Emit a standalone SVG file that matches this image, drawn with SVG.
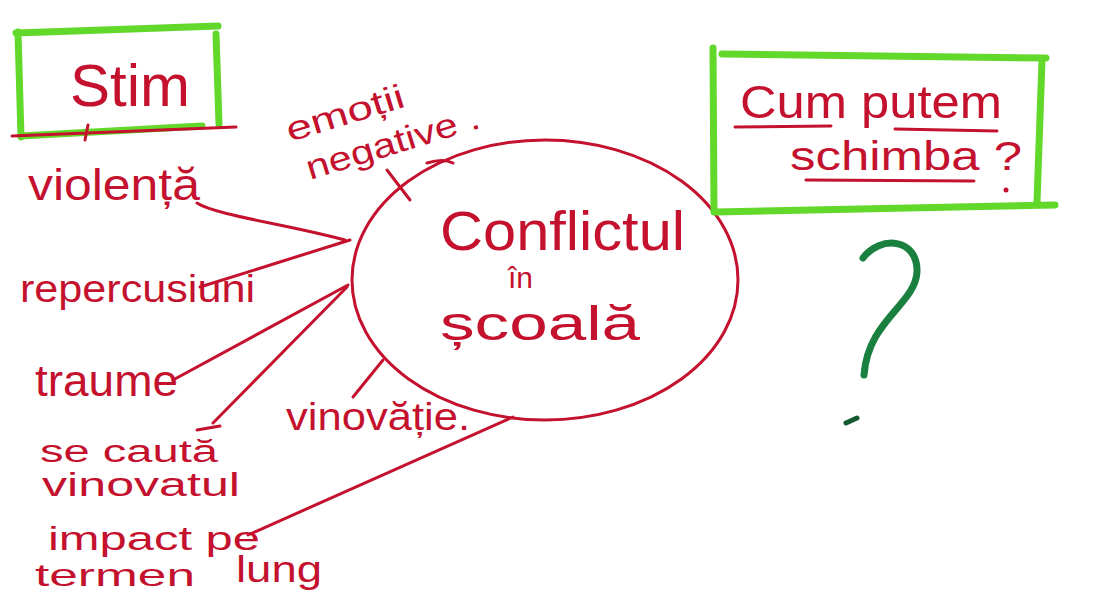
<svg xmlns="http://www.w3.org/2000/svg" width="1099" height="596" viewBox="0 0 1099 596">
<defs>
<linearGradient id="topline" x1="0" x2="1" y1="0" y2="0">
<stop offset="0" stop-color="#e0e0e0"/><stop offset="0.4" stop-color="#555"/><stop offset="1" stop-color="#111"/>
</linearGradient>
</defs>
<style>
.t{font-family:"Liberation Sans","DejaVu Sans",sans-serif;fill:#c4112e;}
.r{stroke:#c4112e;stroke-width:3;fill:none;stroke-linecap:round;stroke-linejoin:round;}
.g{stroke:#62d82a;stroke-width:7;fill:none;stroke-linecap:round;}
</style>
<rect width="1099" height="596" fill="#fff"/>
<line x1="565" y1="14" x2="1099" y2="14" stroke="url(#topline)" stroke-width="2"/>

<g id="stim">
<path class="g" d="M16 33 L218 26 M18 32 L21 137 M216 34 L219 124 M21 136 L202 126"/>
<path class="r" d="M12 136 L236 127 M88 125 L85 140"/>
<text class="t" x="70" y="106" font-size="60" textLength="120" lengthAdjust="spacingAndGlyphs">Stim</text>
</g>

<g id="central">
<ellipse class="r" cx="545" cy="280" rx="193" ry="140"/>
<text class="t" x="440" y="250" font-size="56" textLength="245" lengthAdjust="spacingAndGlyphs">Conflictul</text>
<text class="t" x="508" y="288" font-size="30">în</text>
<text class="t" x="440" y="340" font-size="48" textLength="200" lengthAdjust="spacingAndGlyphs">școală</text>
</g>

<g id="violenta">
<text class="t" x="28" y="200" font-size="44" textLength="172" lengthAdjust="spacingAndGlyphs">violență</text>
</g>
<g id="emotii">
<text class="t" font-size="34" transform="translate(290 142) rotate(-17)" textLength="122" lengthAdjust="spacingAndGlyphs">emoții</text>
<text class="t" font-size="34" transform="translate(310 180) rotate(-17)" textLength="180" lengthAdjust="spacingAndGlyphs">negative .</text>
</g>
<g id="repercusiuni">
<text class="t" x="20" y="302" font-size="38" textLength="235" lengthAdjust="spacingAndGlyphs">repercusiuni</text>
</g>
<g id="traume">
<text class="t" x="35" y="396" font-size="44" textLength="143" lengthAdjust="spacingAndGlyphs">traume</text>
</g>
<g id="se-cauta">
<text class="t" x="40" y="462" font-size="31" textLength="178" lengthAdjust="spacingAndGlyphs">se caută</text>
<text class="t" x="42" y="496" font-size="33" textLength="198" lengthAdjust="spacingAndGlyphs">vinovatul</text>
</g>
<g id="vinovatie">
<text class="t" x="286" y="430" font-size="38" textLength="184" lengthAdjust="spacingAndGlyphs">vinovăție.</text>
</g>
<g id="impact">
<text class="t" x="48" y="550" font-size="34" textLength="212" lengthAdjust="spacingAndGlyphs">impact pe</text>
<text class="t" x="35" y="586" font-size="32" textLength="160" lengthAdjust="spacingAndGlyphs">termen</text>
<text class="t" x="236" y="582" font-size="36" textLength="86" lengthAdjust="spacingAndGlyphs">lung</text>
</g>

<g id="cum-putem">
<path class="g" d="M722 54 L1046 58 M713 48 L714 212 M1042 60 L1037 202 M716 212 L1055 205"/>
<text class="t" x="740" y="118" font-size="46" textLength="262" lengthAdjust="spacingAndGlyphs">Cum putem</text>
<text class="t" x="790" y="170" font-size="40" textLength="232" lengthAdjust="spacingAndGlyphs">schimba ?</text>
<path class="r" d="M735 127 L831 126 M895 129 L997 131 M806 180 L974 181"/>
<circle cx="1006" cy="190" r="2.5" fill="#c4112e"/>
</g>

<g id="question">
<path d="M863 258 C 880 235, 918 238, 917 272 C 915 305, 868 320, 864 375" stroke="#1a8040" stroke-width="7" fill="none" stroke-linecap="round"/>
<path d="M846 423 L 857 418" stroke="#145a30" stroke-width="5" stroke-linecap="round"/>
</g>

<g id="connectors">
<path class="r" d="M197 203 C 215 215, 290 225, 345 240"/>
<path class="r" d="M200 287 L350 240"/>
<path class="r" d="M173 380 L348 285"/>
<path class="r" d="M213 423 L347 287 M197 430 L220 426"/>
<path class="r" d="M387 170 L410 200 M427 163 C 437 160, 447 160, 453 163"/>
<path class="r" d="M353 397 L383 360"/>
<path class="r" d="M248 535 L513 417"/>
</g>
</svg>
